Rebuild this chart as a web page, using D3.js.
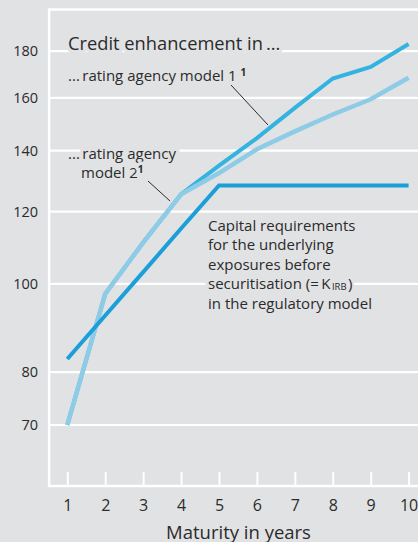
<!DOCTYPE html>
<html>
<head>
<meta charset="utf-8">
<script src="https://cdn.jsdelivr.net/npm/d3@7"></script>
<style>
  html, body { margin: 0; padding: 0; background: #e1e2e4; }
  svg { display: block; font-family: "Open Sans", sans-serif; }
</style>
</head>
<body>
<div id="chart"></div>
<script>
// Maturity (years) on the x axis
const maturities = [1, 2, 3, 4, 5, 6, 7, 8, 9, 10];

// Credit enhancement, index values
const agencyModel1 = [70, 97.5, 111, 125.4, 134.8, 144.5, 156, 168, 173, 183.3];
const agencyModel2 = [70, 97.5, 111, 125.4, 132.3, 140.5, 147, 153.4, 159.4, 168.3];
const regulatoryKirb = [82.7, 92.3, 103, 115, 128.2, 128.2, 128.2, 128.2, 128.2, 128.2];

const yTicks = [70, 80, 100, 120, 140, 160, 180];

const width = 418, height = 542;
const bg = "#e1e2e4";
const textColor = "#2b2b2b";

const svg = d3.select("#chart").append("svg")
    .attr("width", width)
    .attr("height", height);

svg.append("rect")
    .attr("width", width)
    .attr("height", height)
    .attr("fill", bg);

const xScale = d3.scaleLinear().domain([1, 10]).range([67.3, 408.6]);
const yScale = d3.scaleLog().domain([60, 200]).range([486, 9.5]);

const left = xScale(0.52), right = width + 5;

// Horizontal gridlines
svg.append("g")
    .selectAll("line")
    .data(yTicks)
    .enter()
    .append("line")
    .attr("x1", left)
    .attr("x2", right)
    .attr("y1", d => yScale(d))
    .attr("y2", d => yScale(d))
    .attr("stroke", "white")
    .attr("stroke-width", 2.2);

// Frame: top, left, bottom
svg.append("path")
    .attr("d", `M${right},${yScale(200)}H${left}V${yScale(60)}H${right}`)
    .attr("fill", "none")
    .attr("stroke", "white")
    .attr("stroke-width", 2.5);

// Y axis labels
const yAxis = d3.axisLeft(yScale).tickValues(yTicks).tickSize(0).tickPadding(11)
    .tickFormat(d3.format("d"));
svg.append("g")
    .attr("transform", `translate(${left},0)`)
    .call(yAxis)
    .call(g => g.select(".domain").remove())
    .selectAll("text")
    .attr("fill", textColor)
    .style("font-family", "Open Sans")
    .style("font-size", "14.5px");

// X axis with small upward white ticks
const xAxis = d3.axisBottom(xScale).tickValues(maturities).tickSize(0).tickPadding(14);
svg.append("g")
    .attr("transform", `translate(0,${yScale(60)})`)
    .call(xAxis)
    .call(g => g.select(".domain").remove())
    .call(g => g.selectAll(".tick line")
        .attr("y1", 0).attr("y2", -14)
        .attr("stroke", "white").attr("stroke-width", 2))
    .selectAll("text")
    .attr("fill", textColor)
    .style("font-family", "Open Sans")
    .style("font-size", "16px");

svg.append("text")
    .attr("x", 238.5)
    .attr("y", 538.5)
    .attr("text-anchor", "middle")
    .attr("fill", textColor)
    .style("font-size", "18.5px")
    .text("Maturity in years");

// Lines
const line = d3.line()
    .x((d, i) => xScale(maturities[i]))
    .y(d => yScale(d));

svg.append("path")
    .datum(agencyModel1)
    .attr("fill", "none")
    .attr("stroke", "#33b3e0")
    .attr("stroke-width", 4)
    .attr("d", line);

svg.append("path")
    .datum(agencyModel2)
    .attr("fill", "none")
    .attr("stroke", "#8ecbe7")
    .attr("stroke-width", 4.5)
    .attr("d", line);

svg.append("path")
    .datum(regulatoryKirb)
    .attr("fill", "none")
    .attr("stroke", "#1c9fd9")
    .attr("stroke-width", 4)
    .attr("d", line);

// Leader lines from labels to series
svg.append("line")
    .attr("x1", 231).attr("y1", 85).attr("x2", 268).attr("y2", 125)
    .attr("stroke", "#2b2b2b").attr("stroke-width", 1);
svg.append("line")
    .attr("x1", 148).attr("y1", 181).attr("x2", 170).attr("y2", 201)
    .attr("stroke", "#2b2b2b").attr("stroke-width", 1);

// Annotation text with background halo
function label(x, y, size) {
    return svg.append("text")
        .attr("x", x)
        .attr("y", y)
        .attr("fill", textColor)
        .attr("stroke", bg)
        .attr("stroke-width", 7)
        .attr("paint-order", "stroke")
        .attr("stroke-linejoin", "round")
        .style("font-size", size + "px");
}

label(68, 50, 18.3).text("Credit enhancement in\u2009...");

const m1 = label(68, 81, 15);
m1.append("tspan").text("...\u2009rating agency model 1 ");
m1.append("tspan").attr("font-size", "10px").attr("font-weight", "bold").attr("dy", -5).text("1");

const m2 = label(68, 159, 15);
m2.append("tspan").text("...\u2009rating agency");
m2.append("tspan").attr("x", 81).attr("dy", 19).text("model 2");
m2.append("tspan").attr("font-size", "10px").attr("font-weight", "bold").attr("dy", -5).text("1");

// Capital requirements block, one text per line
const capLines = ["Capital requirements", "for the underlying", "exposures before",
    "securitisation (=\u2009K", "in the regulatory model"];
const capX = 208, capY = 230.5, capStep = 19.6;
const capTexts = capLines.map((t, i) => label(capX, capY + i * capStep, 15).text(t));

// K subscript IRB and closing bracket placed after the measured line 4
const line4 = capTexts[3].node();
const subX = capX + line4.getComputedTextLength() + 1.5;
const sub = label(subX, capY + 3 * capStep + 0.5, 9.5).attr("stroke-width", 4).text("IRB");
label(subX + sub.node().getComputedTextLength() + 1.5, capY + 3 * capStep, 15)
    .attr("stroke-width", 4).text(")");
</script>
</body>
</html>
